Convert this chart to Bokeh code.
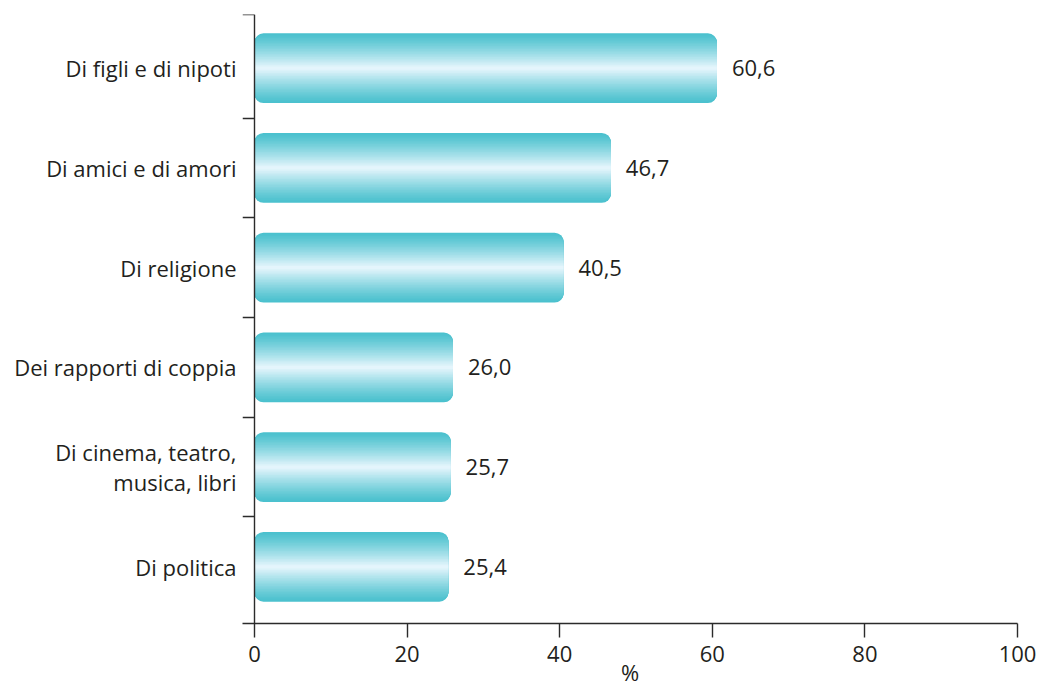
from bokeh.plotting import figure
from bokeh.models import Range1d, FixedTicker, LinearAxis, ColumnDataSource
from bokeh.embed import file_html
from bokeh.resources import INLINE
from bokeh.core.properties import value

# ---- data ----
categories = ["Di figli e di nipoti", "Di amici e di amori", "Di religione",
              "Dei rapporti di coppia", "Di cinema, teatro,\nmusica, libri", "Di politica"]
values = [60.6, 46.7, 40.5, 26.0, 25.7, 25.4]
value_labels = ["60,6", "46,7", "40,5", "26,0", "25,7", "25,4"]
x_ticks = [0, 20, 40, 60, 80, 100]
x_label = "%"

# ---- style ----
FONT = "Open Sans"
FS = "22px"
TXT = "#231f20"
AX = "#2b2b2b"
EDGE = (75, 193, 206)
CENTER = (228, 245, 252)

W, H = 1038, 689
F_LEFT, F_RIGHT, F_TOP, F_BOTTOM = 242, 1017, 14, 627
ZERO_PX = 254
frame_w = F_RIGHT - F_LEFT
x_start = -(ZERO_PX - F_LEFT) * 100.0 / (frame_w - (ZERO_PX - F_LEFT))
y_start, y_end = -0.568, 5.538
px_per_y = (F_BOTTOM - F_TOP) / (y_end - y_start)

n = len(categories)
ys = [n - 1 - i for i in range(n)]

p = figure(width=W, height=H, output_backend="svg", toolbar_location=None,
           x_range=Range1d(x_start, 100), y_range=Range1d(y_start, y_end),
           min_border_left=F_LEFT, min_border_right=W - F_RIGHT,
           min_border_top=F_TOP, min_border_bottom=H - F_BOTTOM,
           x_axis_location="below", y_axis_location="left")
p.outline_line_color = None
p.grid.visible = False
p.background_fill_color = "white"
p.border_fill_color = "white"

# bars: nested layers to imitate vertical gradient
BAR_H = 0.70
R = 9
N = 22
src = ColumnDataSource(dict(y=ys, right=values, lab=value_labels))
for k in range(N):
    frac = k / N
    h = BAR_H * (1 - frac)
    t = (k / (N - 1)) ** 1.2
    col = tuple(int(round(EDGE[j] + (CENTER[j] - EDGE[j]) * t)) for j in range(3))
    d = (BAR_H - h) / 2 * px_per_y
    r = int(max(0, round(R - d)))
    p.hbar(y="y", left=0, right="right", height=h, source=src,
           fill_color="#%02x%02x%02x" % col, line_color=None, border_radius=r)

# value labels
p.text(x="right", y="y", text="lab", source=src, x_offset=15,
       text_baseline="middle", text_align="left",
       text_font=value(FONT), text_font_size=FS, text_color=TXT)

# category label axis (at frame left)
ya = p.yaxis[0]
ya.ticker = FixedTicker(ticks=ys)
ya.major_label_overrides = {y: c for y, c in zip(ys, categories)}
ya.axis_line_color = None
ya.major_tick_line_color = None
ya.minor_tick_line_color = None
ya.major_tick_out = 0
ya.major_tick_in = 0
ya.major_label_standoff = 6
ya.major_label_text_font = FONT
ya.major_label_text_font_size = FS
ya.major_label_text_color = TXT
ya.major_label_text_line_height = 1.0

# y axis line with boundary ticks, fixed at x = 0
bounds = [0.5, 1.5, 2.5, 3.5, 4.5, y_end]
ta = LinearAxis(fixed_location=0, ticker=FixedTicker(ticks=bounds),
                major_tick_out=12, major_tick_in=0, minor_tick_out=0, minor_tick_in=0,
                axis_line_color=AX, axis_line_width=1.4,
                major_tick_line_color=AX, major_tick_line_width=1.4,
                major_label_text_font_size="0px", major_label_standoff=0)
ta.major_label_overrides = {b: "" for b in bounds}
p.add_layout(ta, "left")

# x axis
xa = p.xaxis[0]
xa.ticker = FixedTicker(ticks=x_ticks)
xa.major_tick_out = 14
xa.major_tick_in = 0
xa.minor_tick_out = 0
xa.minor_tick_in = 0
xa.axis_line_color = AX
xa.axis_line_width = 1.4
xa.major_tick_line_color = AX
xa.major_tick_line_width = 1.4
xa.major_label_standoff = 8
xa.major_label_text_font = FONT
xa.major_label_text_font_size = FS
xa.major_label_text_color = TXT
xa.axis_label = x_label
xa.axis_label_standoff = -8
xa.axis_label_text_font = FONT
xa.axis_label_text_font_size = FS
xa.axis_label_text_font_style = "normal"
xa.axis_label_text_color = TXT

open("out.html", "w").write(file_html(p, INLINE))
